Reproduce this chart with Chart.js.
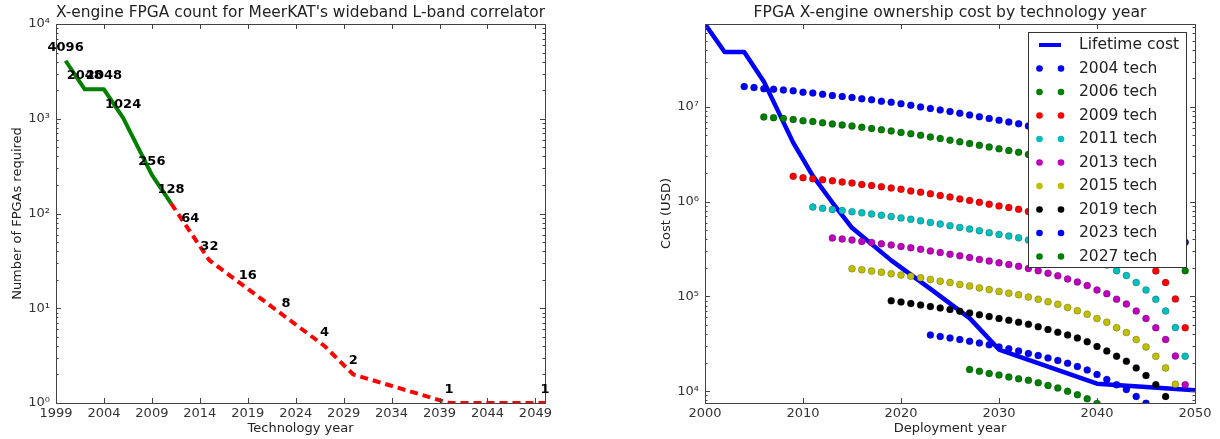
<!DOCTYPE html>
<html>
<head>
<meta charset="utf-8">
<script src="https://cdn.jsdelivr.net/npm/chart.js@4/dist/chart.umd.min.js"></script>
<style>
  body { margin: 0; background: #fff; }
  #wrap { position: relative; width: 1220px; height: 439px; }
  canvas { position: absolute; top: 0; }
  #left { left: 0; }
  #right { left: 610px; }
</style>
</head>
<body>
<div id="wrap">
  <canvas id="left" width="610" height="439"></canvas>
  <canvas id="right" width="610" height="439"></canvas>
</div>
<script>
// ---- left chart: FPGAs needed per technology year ----
const techYears = [2000, 2002, 2004, 2006, 2009, 2011, 2013, 2015, 2019, 2023, 2027, 2030, 2040, 2050];
const fpgaCount = [4096, 2048, 2048, 1024, 256, 128, 64, 32, 16, 8, 4, 2, 1, 1];
const splitIdx = 5; // 2011: solid green up to here, red dashed after
const leftXTicks = [1999, 2004, 2009, 2014, 2019, 2024, 2029, 2034, 2039, 2044, 2049];
const leftYTicks = [1, 10, 100, 1000, 10000];

// ---- right chart: ownership cost ----
const lifetimeCost = [7.5e7, 3.8e7, 3.8e7, 1.86e7, 4.2e6, 1.87e6, 9.8e5, 5.3e5, 2.4e5, 1.2e5, 5.9e4, 2.75e4, 1.2e4, 1.02e4];
const rightXTicks = [2000, 2010, 2020, 2030, 2040, 2050];
const rightYTicks = [1e4, 1e5, 1e6, 1e7];

const techLabels = ['2004 tech', '2006 tech', '2009 tech', '2011 tech', '2013 tech', '2015 tech', '2019 tech', '2023 tech', '2027 tech'];
const techStart = [2004, 2006, 2009, 2011, 2013, 2015, 2019, 2023, 2027];
const techColors = ['#0000ff', '#008000', '#ff0000', '#00bfbf', '#bf00bf', '#bfbf00', '#000000', '#0000ff', '#008000'];

// cost per deployment year, one value per year from the tech year on
const cost2004 = [1.64e7, 1.60e7, 1.56e7, 1.54e7, 1.51e7, 1.48e7, 1.43e7, 1.40e7, 1.36e7, 1.32e7,
  1.29e7, 1.26e7, 1.22e7, 1.19e7, 1.15e7, 1.12e7, 1.08e7, 1.04e7, 1.00e7, 9.65e6,
  9.30e6, 8.93e6, 8.56e6, 8.22e6, 7.87e6, 7.54e6, 7.22e6, 6.93e6, 6.64e6, 6.30e6,
  5.97e6, 5.63e6, 5.28e6, 4.90e6, 4.53e6, 4.14e6, 3.74e6, 3.42e6, 2.99e6, 2.66e6,
  2.24e6, 1.87e6, 1.49e6, 1.12e6, 7.52e5, 3.74e5];
const cost2006 = [7.82e6, 7.71e6, 7.55e6, 7.38e6, 7.16e6, 7.02e6, 6.81e6, 6.62e6, 6.44e6, 6.28e6,
  6.10e6, 5.93e6, 5.74e6, 5.58e6, 5.38e6, 5.22e6, 5.02e6, 4.82e6, 4.65e6, 4.46e6,
  4.28e6, 4.11e6, 3.94e6, 3.77e6, 3.61e6, 3.46e6, 3.32e6, 3.15e6, 2.98e6, 2.82e6,
  2.64e6, 2.45e6, 2.26e6, 2.07e6, 1.87e6, 1.71e6, 1.50e6, 1.33e6, 1.12e6, 9.36e5,
  7.45e5, 5.62e5, 3.76e5, 1.87e5];
const cost2009 = [1.85e6, 1.79e6, 1.75e6, 1.70e6, 1.66e6, 1.61e6, 1.57e6, 1.52e6, 1.48e6, 1.44e6,
  1.39e6, 1.35e6, 1.30e6, 1.26e6, 1.21e6, 1.16e6, 1.12e6, 1.07e6, 1.03e6, 9.84e5,
  9.42e5, 9.02e5, 8.66e5, 8.30e5, 7.88e5, 7.46e5, 7.04e5, 6.60e5, 6.12e5, 5.66e5,
  5.18e5, 4.68e5, 4.28e5, 3.74e5, 3.32e5, 2.80e5, 2.34e5, 1.86e5, 1.40e5, 9.40e4,
  4.68e4];
const cost2011 = [8.77e5, 8.51e5, 8.28e5, 8.05e5, 7.85e5, 7.62e5, 7.41e5, 7.18e5, 6.97e5, 6.73e5,
  6.52e5, 6.28e5, 6.03e5, 5.81e5, 5.58e5, 5.35e5, 5.14e5, 4.92e5, 4.71e5, 4.51e5,
  4.33e5, 4.15e5, 3.94e5, 3.73e5, 3.52e5, 3.30e5, 3.06e5, 2.83e5, 2.59e5, 2.34e5,
  2.14e5, 1.87e5, 1.66e5, 1.40e5, 1.17e5, 9.31e4, 7.02e4, 4.70e4, 2.34e4];
const cost2013 = [4.14e5, 4.03e5, 3.93e5, 3.81e5, 3.71e5, 3.59e5, 3.49e5, 3.37e5, 3.26e5, 3.14e5,
  3.02e5, 2.91e5, 2.79e5, 2.68e5, 2.57e5, 2.46e5, 2.36e5, 2.26e5, 2.17e5, 2.08e5,
  1.97e5, 1.87e5, 1.76e5, 1.65e5, 1.53e5, 1.42e5, 1.30e5, 1.17e5, 1.07e5, 9.35e4,
  8.30e4, 7.00e4, 5.85e4, 4.66e4, 3.51e4, 2.35e4, 1.17e4];
const cost2015 = [1.96e5, 1.91e5, 1.85e5, 1.80e5, 1.74e5, 1.68e5, 1.63e5, 1.57e5, 1.51e5, 1.45e5,
  1.40e5, 1.34e5, 1.29e5, 1.23e5, 1.18e5, 1.13e5, 1.08e5, 1.04e5, 9.85e4, 9.33e4,
  8.80e4, 8.25e4, 7.65e4, 7.08e4, 6.48e4, 5.85e4, 5.35e4, 4.68e4, 4.15e4, 3.50e4,
  2.93e4, 2.33e4, 1.76e4, 1.18e4];
const cost2019 = [9.00e4, 8.72e4, 8.42e4, 8.12e4, 7.82e4, 7.55e4, 7.27e4, 6.98e4, 6.70e4, 6.40e4,
  6.12e4, 5.86e4, 5.60e4, 5.34e4, 5.08e4, 4.78e4, 4.48e4, 4.19e4, 3.92e4, 3.63e4,
  3.32e4, 2.96e4, 2.65e4, 2.34e4, 2.07e4, 1.76e4, 1.46e4, 1.17e4, 8.80e3];
const cost2023 = [3.92e4, 3.78e4, 3.64e4, 3.50e4, 3.36e4, 3.22e4, 3.08e4, 2.93e4, 2.80e4, 2.65e4,
  2.50e4, 2.38e4, 2.24e4, 2.11e4, 1.97e4, 1.82e4, 1.67e4, 1.50e4, 1.33e4, 1.17e4,
  1.04e4, 8.80e3, 7.45e3];
const cost2027 = [1.69e4, 1.62e4, 1.54e4, 1.48e4, 1.41e4, 1.35e4, 1.30e4, 1.23e4, 1.15e4, 1.08e4,
  9.95e3, 9.18e3, 8.30e3, 7.40e3];
const techCosts = [cost2004, cost2006, cost2009, cost2011, cost2013, cost2015, cost2019, cost2023, cost2027];

Chart.defaults.font.family = '"DejaVu Sans", sans-serif';
Chart.defaults.color = '#333';

const SUP = { '0': '\u2070', '1': '\u00b9', '2': '\u00b2', '3': '\u00b3', '4': '\u2074', '5': '\u2075', '6': '\u2076', '7': '\u2077', '8': '\u2078', '9': '\u2079' };
const powLabel = (v) => '10' + String(Math.round(Math.log10(v))).split('').map((c) => SUP[c]).join('');

// matplotlib-like box with inward ticks (major + log minor)
const frameTicks = {
  id: 'frameTicks',
  afterDatasetsDraw(chart, args, opts) {
    const { ctx, chartArea: a, scales: { x, y } } = chart;
    ctx.save();
    ctx.strokeStyle = '#444';
    ctx.lineWidth = 1;
    ctx.beginPath();
    opts.xTicks.forEach((v) => {
      const px = Math.round(x.getPixelForValue(v)) + 0.5;
      ctx.moveTo(px, a.bottom); ctx.lineTo(px, a.bottom - 5);
      ctx.moveTo(px, a.top); ctx.lineTo(px, a.top + 5);
    });
    const lo = Math.floor(Math.log10(y.min));
    const hi = Math.ceil(Math.log10(y.max));
    for (let e = lo; e <= hi; e++) {
      for (let k = 1; k < 10; k++) {
        const v = k * Math.pow(10, e);
        if (v < y.min || v > y.max) continue;
        const len = k === 1 ? 5 : 2.5;
        const py = Math.round(y.getPixelForValue(v)) + 0.5;
        ctx.moveTo(a.left, py); ctx.lineTo(a.left + len, py);
        ctx.moveTo(a.right, py); ctx.lineTo(a.right - len, py);
      }
    }
    ctx.stroke();
    ctx.strokeRect(Math.round(a.left) + 0.5, Math.round(a.top) + 0.5, Math.round(a.width), Math.round(a.height));
    ctx.restore();
  }
};

// numbers written above each point of the left chart
const countLabels = {
  id: 'countLabels',
  afterDraw(chart) {
    const { ctx, scales: { x, y } } = chart;
    ctx.save();
    ctx.font = 'bold 13px "DejaVu Sans"';
    ctx.fillStyle = '#000';
    ctx.textAlign = 'center';
    ctx.textBaseline = 'alphabetic';
    techYears.forEach((yr, i) => {
      ctx.fillText(String(fpgaCount[i]), x.getPixelForValue(yr), y.getPixelForValue(fpgaCount[i]) - 10);
    });
    ctx.restore();
  }
};

// legend box in the upper right corner, two markers per entry
const boxLegend = {
  id: 'boxLegend',
  afterDraw(chart) {
    const { ctx, chartArea: a } = chart;
    const w = 158, h = 235, row = 23.5;
    const left = a.right - 9 - w, top = a.top + 8;
    ctx.save();
    ctx.fillStyle = '#fff';
    ctx.fillRect(left, top, w, h);
    ctx.strokeStyle = '#333';
    ctx.lineWidth = 1;
    ctx.strokeRect(Math.round(left) + 0.5, Math.round(top) + 0.5, w, h);
    ctx.font = '15.5px "DejaVu Sans"';
    ctx.textBaseline = 'middle';
    chart.data.datasets.forEach((ds, i) => {
      const cy = top + 13 + i * row;
      if (ds.showLine) {
        ctx.strokeStyle = ds.borderColor;
        ctx.lineWidth = 4;
        ctx.beginPath();
        ctx.moveTo(left + 11, cy); ctx.lineTo(left + 33, cy);
        ctx.stroke();
      } else {
        [left + 11.5, left + 33].forEach((cx) => {
          ctx.beginPath();
          ctx.arc(cx, cy, 3.3, 0, Math.PI * 2);
          ctx.fillStyle = ds.pointBackgroundColor;
          ctx.fill();
        });
      }
      ctx.fillStyle = '#222';
      ctx.fillText(ds.label, left + 51, cy);
    });
    ctx.restore();
  }
};

const axisTitle = (text, pad) => ({ display: true, text: text, color: '#222', font: { size: 13 }, padding: pad });

// left chart
const toPts = (xs, ys) => xs.map((x, i) => ({ x: x, y: ys[i] }));
new Chart(document.getElementById('left'), {
  type: 'scatter',
  data: {
    datasets: [
      {
        label: 'existing',
        data: toPts(techYears.slice(0, splitIdx + 1), fpgaCount.slice(0, splitIdx + 1)),
        showLine: true, borderColor: '#008000', borderWidth: 4, pointRadius: 0,
        borderJoinStyle: 'round', tension: 0
      },
      {
        label: 'projected',
        data: toPts(techYears.slice(splitIdx), fpgaCount.slice(splitIdx)),
        showLine: true, borderColor: '#ff0000', borderWidth: 4, borderDash: [8, 5], pointRadius: 0,
        tension: 0
      }
    ]
  },
  options: {
    responsive: false, animation: false, devicePixelRatio: 1,
    layout: { padding: { left: 0, right: 65, top: 0, bottom: 0 } },
    plugins: {
      legend: { display: false }, tooltip: { enabled: false },
      title: {
        display: true, fullSize: false, color: '#222',
        text: "X-engine FPGA count for MeerKAT's wideband L-band correlator",
        font: { size: 15.6, weight: 'normal' }, padding: { top: 3.5, bottom: 1.8 }
      },
      frameTicks: { xTicks: leftXTicks }
    },
    scales: {
      x: {
        type: 'linear', min: 1999, max: 2050,
        grid: { display: false, drawTicks: false }, border: { display: false },
        afterBuildTicks: (s) => { s.ticks = leftXTicks.map((v) => ({ value: v })); },
        afterFit: (s) => { s.height = 36; },
        ticks: { autoSkip: false, maxRotation: 0, padding: 2.5, font: { size: 13 }, callback: (v) => String(v) },
        title: axisTitle('Technology year', { top: 0, bottom: 3 })
      },
      y: {
        type: 'logarithmic', min: 1, max: 10000,
        grid: { display: false, drawTicks: false }, border: { display: false },
        afterBuildTicks: (s) => { s.ticks = leftYTicks.map((v) => ({ value: v })); },
        afterFit: (s) => { s.width = 56; },
        ticks: { autoSkip: false, padding: 6, font: { size: 13 }, callback: (v) => powLabel(v) },
        title: axisTitle('Number of FPGAs required', { top: 10, bottom: 0 })
      }
    }
  },
  plugins: [frameTicks, countLabels]
});

// right chart
const rightSets = [{
  label: 'Lifetime cost',
  data: toPts(techYears, lifetimeCost),
  showLine: true, borderColor: '#0000ff', borderWidth: 4.5, pointRadius: 0,
  borderJoinStyle: 'round', tension: 0, order: 20
}];
techCosts.forEach((vals, t) => {
  rightSets.push({
    label: techLabels[t],
    data: vals.map((v, i) => ({ x: techStart[t] + i, y: v })),
    showLine: false,
    pointRadius: 3.5,
    pointBackgroundColor: techColors[t],
    pointBorderColor: 'rgba(0,0,0,0.45)',
    pointBorderWidth: 0.5,
    borderColor: techColors[t],
    order: 10 - t
  });
});

new Chart(document.getElementById('right'), {
  type: 'scatter',
  data: { datasets: rightSets },
  options: {
    responsive: false, animation: false, devicePixelRatio: 1,
    layout: { padding: { left: 0, right: 25, top: 0, bottom: 0 } },
    plugins: {
      legend: { display: false }, tooltip: { enabled: false },
      title: {
        display: true, fullSize: false, color: '#222',
        text: 'FPGA X-engine ownership cost by technology year',
        font: { size: 15.6, weight: 'normal' }, padding: { top: 3.5, bottom: 1.8 }
      },
      frameTicks: { xTicks: rightXTicks }
    },
    scales: {
      x: {
        type: 'linear', min: 2000, max: 2050,
        grid: { display: false, drawTicks: false }, border: { display: false },
        afterBuildTicks: (s) => { s.ticks = rightXTicks.map((v) => ({ value: v })); },
        afterFit: (s) => { s.height = 36; },
        ticks: { autoSkip: false, maxRotation: 0, padding: 2.5, font: { size: 13 }, callback: (v) => String(v) },
        title: axisTitle('Deployment year', { top: 0, bottom: 3 })
      },
      y: {
        type: 'logarithmic', min: 7500, max: 7.5e7,
        grid: { display: false, drawTicks: false }, border: { display: false },
        afterBuildTicks: (s) => { s.ticks = rightYTicks.map((v) => ({ value: v })); },
        afterFit: (s) => { s.width = 95; },
        ticks: { autoSkip: false, padding: 6, font: { size: 13 }, callback: (v) => powLabel(v) },
        title: axisTitle('Cost (USD)', { top: 49, bottom: 0 })
      }
    }
  },
  plugins: [frameTicks, boxLegend]
});
</script>
</body>
</html>
